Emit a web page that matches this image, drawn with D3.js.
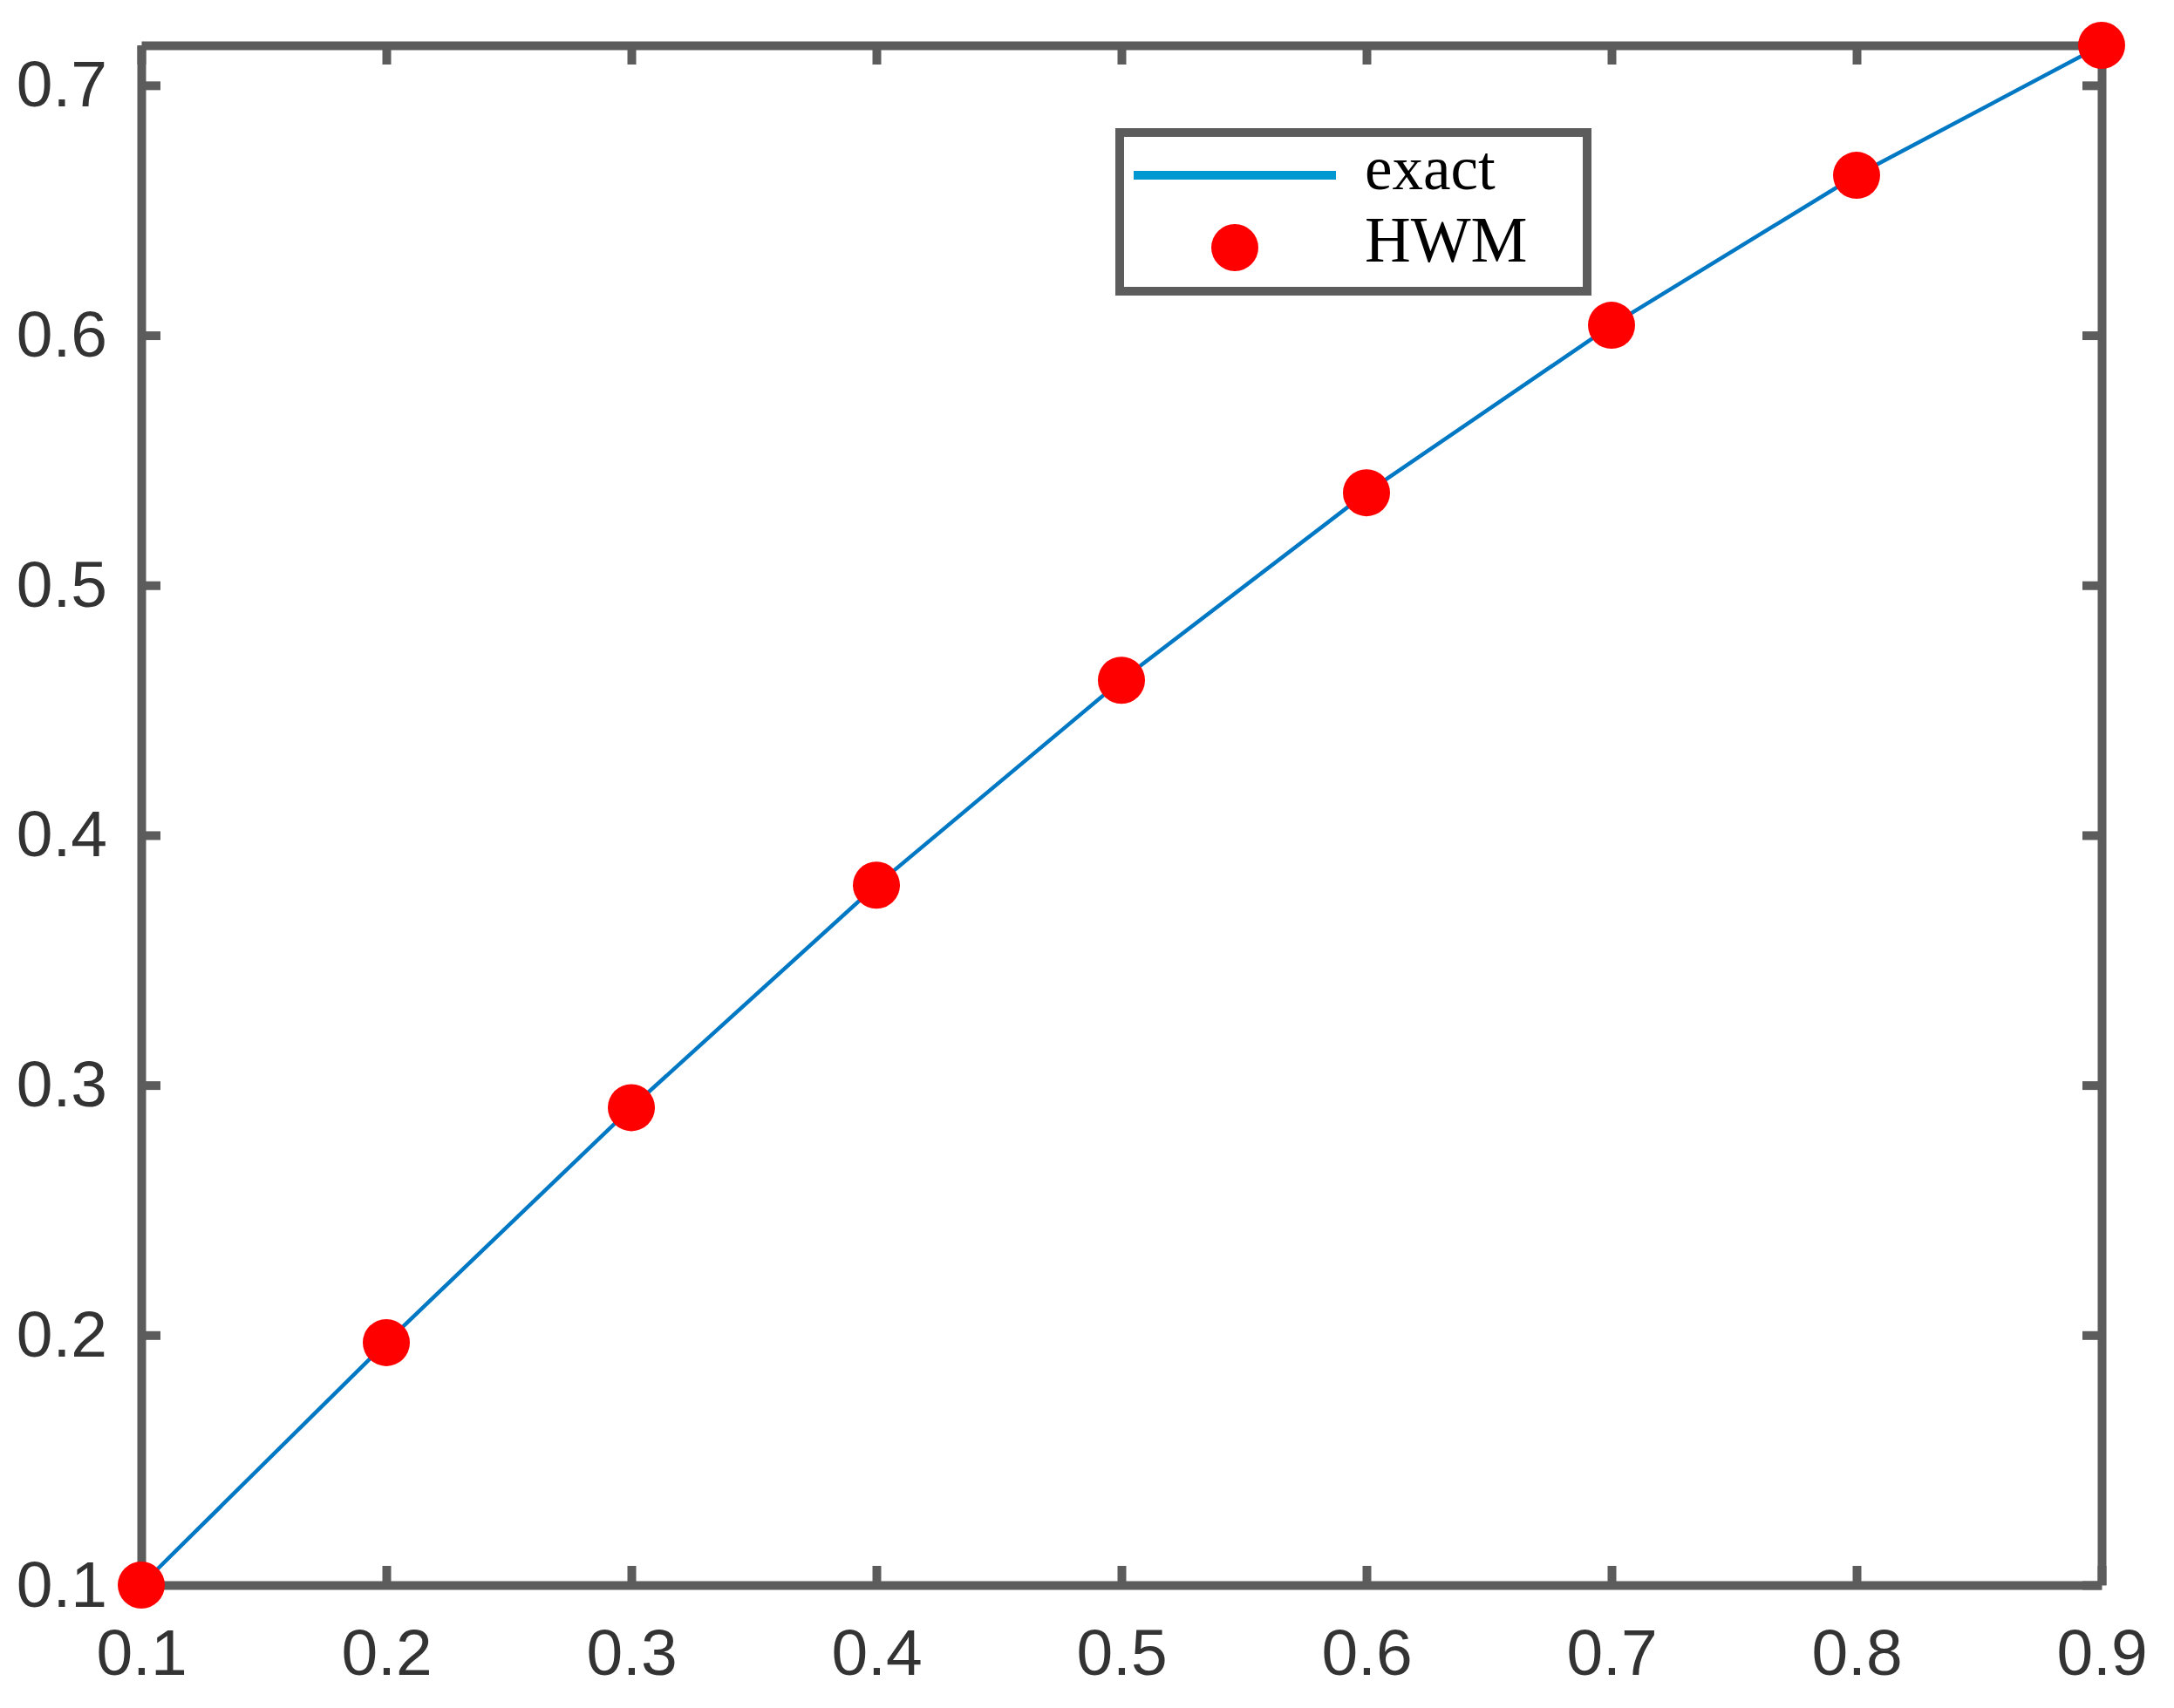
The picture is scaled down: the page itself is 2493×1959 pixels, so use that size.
<!doctype html>
<html>
<head>
<meta charset="utf-8">
<script src="https://d3js.org/d3.v7.min.js"></script>
<style>
  body { margin: 0; background: #fff; }
  .tick text { font-family: "Liberation Sans", Arial, sans-serif; font-size: 75px; fill: #333; }
</style>
</head>
<body>
<div id="chart"></div>
<script>
// values
var xValues = [0.1, 0.2, 0.3, 0.4, 0.5, 0.6, 0.7, 0.8, 0.9];
var exactValues = [0.1, 0.197, 0.291, 0.380, 0.462, 0.537, 0.604, 0.664, 0.716];
var hwmValues = [0.1, 0.197, 0.291, 0.380, 0.462, 0.537, 0.604, 0.664, 0.716];
var xTicks = [0.1, 0.2, 0.3, 0.4, 0.5, 0.6, 0.7, 0.8, 0.9];
var yTicks = [0.1, 0.2, 0.3, 0.4, 0.5, 0.6, 0.7];
var seriesNames = ["exact", "HWM"];

var width = 2493, height = 1959;
// plot box edges (window.top is reserved, so no plain "top")
var plotLeft = 162, plotRight = 2410, plotTop = 52, plotBottom = 1818;
var axisColor = "#5c5c5c";

var svg = d3.select("#chart").append("svg")
    .attr("width", width)
    .attr("height", height);

var x = d3.scaleLinear().domain([0.1, 0.9]).range([plotLeft, plotRight]);
var y = d3.scaleLinear().domain([0.1, d3.max(exactValues)]).range([plotBottom, plotTop]);

var fmt = d3.format(".1f");

function styleAxis(g) {
  g.select(".domain").attr("stroke", axisColor).attr("stroke-width", 10);
  g.selectAll(".tick line").attr("stroke", axisColor).attr("stroke-width", 10);
}

// bottom / left with labels, top / right mirrored ticks only
svg.append("g")
    .attr("transform", "translate(0," + plotBottom + ")")
    .call(d3.axisBottom(x).tickValues(xTicks).tickFormat(fmt).tickSize(-22).tickSizeOuter(0).tickPadding(50))
    .call(styleAxis);
svg.append("g")
    .attr("transform", "translate(" + plotLeft + ",0)")
    .call(d3.axisLeft(y).tickValues(yTicks).tickFormat(fmt).tickSize(-22).tickSizeOuter(0).tickPadding(39))
    .call(styleAxis);
svg.append("g")
    .attr("transform", "translate(0," + plotTop + ")")
    .call(d3.axisTop(x).tickValues(xTicks).tickFormat("").tickSize(-22).tickSizeOuter(0))
    .call(styleAxis);
svg.append("g")
    .attr("transform", "translate(" + plotRight + ",0)")
    .call(d3.axisRight(y).tickValues(yTicks).tickFormat("").tickSize(-22).tickSizeOuter(0))
    .call(styleAxis);

// exact curve
var line = d3.line()
    .x(function(d, i) { return x(xValues[i]); })
    .y(function(d) { return y(d); });

svg.append("path")
    .datum(exactValues)
    .attr("fill", "none")
    .attr("stroke", "#0078C4")
    .attr("stroke-width", 4.5)
    .attr("d", line);

// HWM points
svg.selectAll("circle.hwm")
    .data(hwmValues)
    .enter().append("circle")
    .attr("class", "hwm")
    .attr("cx", function(d, i) { return x(xValues[i]); })
    .attr("cy", function(d) { return y(d); })
    .attr("r", 27)
    .attr("fill", "#ff0000");

// legend
var legend = svg.append("g");
legend.append("rect")
    .attr("x", 1284).attr("y", 152)
    .attr("width", 536).attr("height", 182)
    .attr("fill", "#fff")
    .attr("stroke", axisColor)
    .attr("stroke-width", 10);
legend.append("line")
    .attr("x1", 1300).attr("x2", 1532)
    .attr("y1", 201).attr("y2", 201)
    .attr("stroke", "#0098D0")
    .attr("stroke-width", 10);
legend.append("circle")
    .attr("cx", 1416).attr("cy", 284)
    .attr("r", 27)
    .attr("fill", "#ff0000");
legend.selectAll("text")
    .data(seriesNames)
    .enter().append("text")
    .attr("x", 1565)
    .attr("y", function(d, i) { return i === 0 ? 217 : 300; })
    .attr("font-family", "'Liberation Serif', 'Times New Roman', serif")
    .attr("font-size", function(d, i) { return i === 0 ? 71 : 73; })
    .attr("fill", "#000")
    .text(function(d) { return d; });
</script>
</body>
</html>
